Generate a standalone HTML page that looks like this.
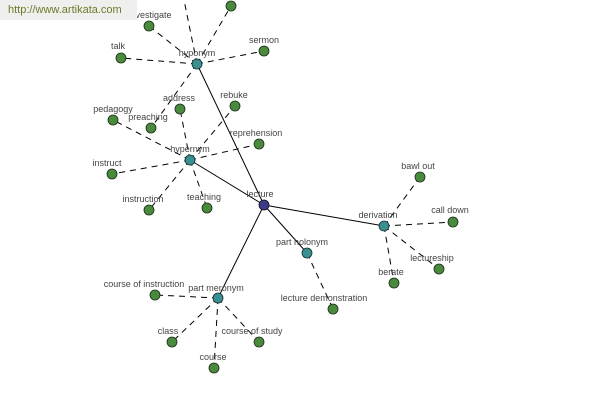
<!DOCTYPE html>
<html><head><meta charset="utf-8"><style>
body{margin:0;background:#fff;width:600px;height:400px;overflow:hidden;position:relative;font-family:"Liberation Sans",sans-serif}
#wm{position:absolute;left:0;top:0;width:137px;height:20px;background:#efefed;color:#6b7a2a;font-size:11px;line-height:20px;padding-left:8px;box-sizing:border-box}
</style></head><body>
<svg width="600" height="400" style="position:absolute;left:0;top:0">
<g stroke="#000" stroke-width="1" fill="none">
<line x1="264" y1="205" x2="197" y2="64"/>
<line x1="264" y1="205" x2="190" y2="160"/>
<line x1="264" y1="205" x2="384" y2="226"/>
<line x1="264" y1="205" x2="307" y2="253"/>
<line x1="264" y1="205" x2="218" y2="298"/>
</g>
<g stroke="#000" stroke-width="1" stroke-dasharray="6,5" fill="none">
<line x1="197" y1="64" x2="149" y2="26"/>
<line x1="197" y1="64" x2="121" y2="58"/>
<line x1="197" y1="64" x2="264" y2="51"/>
<line x1="197" y1="64" x2="231" y2="6"/>
<line x1="197" y1="64" x2="182" y2="-10"/>
<line x1="197" y1="64" x2="151" y2="128"/>
<line x1="190" y1="160" x2="113" y2="120"/>
<line x1="190" y1="160" x2="180" y2="109"/>
<line x1="190" y1="160" x2="235" y2="106"/>
<line x1="190" y1="160" x2="259" y2="144"/>
<line x1="190" y1="160" x2="112" y2="174"/>
<line x1="190" y1="160" x2="149" y2="210"/>
<line x1="190" y1="160" x2="207" y2="208"/>
<line x1="384" y1="226" x2="420" y2="177"/>
<line x1="384" y1="226" x2="453" y2="222"/>
<line x1="384" y1="226" x2="439" y2="269"/>
<line x1="384" y1="226" x2="394" y2="283"/>
<line x1="307" y1="253" x2="333" y2="309"/>
<line x1="218" y1="298" x2="155" y2="295"/>
<line x1="218" y1="298" x2="172" y2="342"/>
<line x1="218" y1="298" x2="259" y2="342"/>
<line x1="218" y1="298" x2="214" y2="368"/>
</g>
<g fill="#4a8a3c" stroke="#1a2a1a" stroke-width="0.8">
<circle cx="149" cy="26" r="5"/><circle cx="121" cy="58" r="5"/><circle cx="264" cy="51" r="5"/><circle cx="231" cy="6" r="5"/>
<circle cx="151" cy="128" r="5"/><circle cx="113" cy="120" r="5"/><circle cx="180" cy="109" r="5"/><circle cx="235" cy="106" r="5"/>
<circle cx="259" cy="144" r="5"/><circle cx="112" cy="174" r="5"/><circle cx="149" cy="210" r="5"/><circle cx="207" cy="208" r="5"/>
<circle cx="420" cy="177" r="5"/><circle cx="453" cy="222" r="5"/><circle cx="439" cy="269" r="5"/><circle cx="394" cy="283" r="5"/>
<circle cx="333" cy="309" r="5"/><circle cx="155" cy="295" r="5"/><circle cx="172" cy="342" r="5"/><circle cx="259" cy="342" r="5"/><circle cx="214" cy="368" r="5"/>
</g>
<g fill="#3a9090" stroke="#1a2a2a" stroke-width="0.8">
<circle cx="197" cy="64" r="5"/><circle cx="190" cy="160" r="5"/><circle cx="384" cy="226" r="5"/><circle cx="307" cy="253" r="5"/><circle cx="218" cy="298" r="5"/>
</g>
<circle cx="264" cy="205" r="5" fill="#3c3c8c" stroke="#111" stroke-width="0.8"/>
<g font-family="Liberation Sans, sans-serif" font-size="9" fill="#444" text-anchor="middle">
<text x="150" y="18">investigate</text><text x="118" y="49">talk</text><text x="264" y="43">sermon</text>
<text x="197" y="56">hyponym</text><text x="179" y="101">address</text><text x="234" y="98">rebuke</text>
<text x="113" y="112">pedagogy</text><text x="148" y="120">preaching</text><text x="256" y="136">reprehension</text>
<text x="190" y="152">hypernym</text><text x="107" y="166">instruct</text><text x="143" y="202">instruction</text>
<text x="204" y="200">teaching</text><text x="260" y="197">lecture</text><text x="418" y="169">bawl out</text>
<text x="450" y="213">call down</text><text x="378" y="218">derivation</text><text x="302" y="245">part holonym</text>
<text x="432" y="261">lectureship</text><text x="391" y="275">berate</text><text x="144" y="287">course of instruction</text>
<text x="216" y="291">part meronym</text><text x="324" y="301">lecture demonstration</text><text x="168" y="334">class</text>
<text x="252" y="334">course of study</text><text x="213" y="360">course</text>
</g>
</svg>
<div id="wm">http://www.artikata.com</div>
</body></html>
